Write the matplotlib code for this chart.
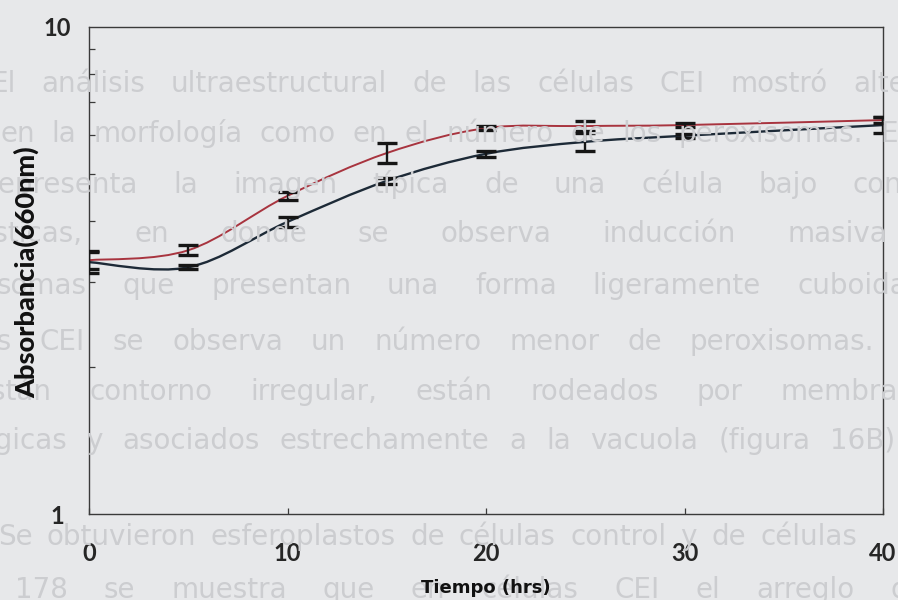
import numpy as np
import matplotlib.pyplot as plt
from matplotlib.path import Path
from matplotlib.patches import PathPatch
from matplotlib.ticker import LogLocator, NullFormatter, FixedLocator, FixedFormatter

# Tiempo de muestreo (hrs)
tiempo = [0, 5, 10, 15, 20, 25, 30, 40]

# Absorbancia a 660 nm, dos cultivos
abs_roja = [3.32, 3.48, 4.50, 5.51, 6.20, 6.26, 6.29, 6.44]
err_roja = [0.14, 0.08, 0.09, 0.26, 0.06, 0.15, 0.06, 0.09]
abs_oscura = [3.29, 3.21, 3.98, 4.83, 5.49, 5.81, 5.98, 6.29]
err_oscura = [0.16, 0.03, 0.09, 0.07, 0.08, 0.24, 0.06, 0.24]

xticks = [0, 10, 20, 30, 40]
yticks = [1, 10]

# texto del reverso de la hoja que se transparenta: (palabras, x inicial, x ultima palabra, linea base) en px
fondo = [
    ("El análisis ultraestructural de las células CEI mostró alteraciones", -10, 853, 92),
    ("en la morfología como en el número de los peroxisomas. En", 0, 880, 142),
    ("representa la imagen típica de una célula bajo condiciones", -12, 853, 193),
    ("plásticas, en donde se observa inducción masiva", -48, 787, 242),
    ("somas que presentan una forma ligeramente cuboidal", -3, 797, 294),
    ("las CEI se observa un número menor de peroxisomas.", -28, 690, 350),
    ("están contorno irregular, están rodeados por membranas", -25, 780, 400),
    ("lógicas y asociados estrechamente a la vacuola (figura 16B).", -30, 830, 449),
    ("Se obtuvieron esferoplastos de células control y de células", -2, 760, 545),
    ("178 se muestra que en células CEI el arreglo de", 15, 890, 598),
]

W, H = 898, 600
fig = plt.figure(figsize=(W / 100, H / 100), dpi=100)
fig.patch.set_facecolor('#e7e8ea')
renderer = fig.canvas.get_renderer()

# texto fantasma justificado palabra por palabra
for linea, x0, xlast, base in fondo:
    palabras = linea.split()
    objs = [fig.text(0, 1 - base / H, p, fontsize=20, color='#cccdd0',
                     family='DejaVu Sans', va='baseline', ha='left', zorder=0)
            for p in palabras]
    anchos = [t.get_window_extent(renderer).width for t in objs]
    n = len(objs)
    hueco = (xlast - x0 - sum(anchos[:-1])) / max(n - 1, 1)
    x = x0
    for t, w in zip(objs, anchos):
        t.set_x(x / W)
        x += w + hueco

ax = fig.add_axes([89 / W, 1 - 514 / H, (883 - 89) / W, (514 - 27) / H])
ax.set_facecolor('none')
ax.set_yscale('log')
ax.set_xlim(0, 40)
ax.set_ylim(1, 10)


def curva_suave(xs, ys):
    # spline Catmull-Rom sobre log10(y)
    pts = np.column_stack([np.asarray(xs, float), np.log10(ys)])
    n = len(pts)
    verts = [pts[0]]
    codes = [Path.MOVETO]
    for i in range(n - 1):
        p0 = pts[i - 1] if i > 0 else pts[i]
        p1, p2 = pts[i], pts[i + 1]
        p3 = pts[i + 2] if i + 2 < n else pts[i + 1]
        verts += [p1 + (p2 - p0) / 6, p2 - (p3 - p1) / 6, p2]
        codes += [Path.CURVE4] * 3
    verts = np.array(verts)
    verts[:, 1] = 10 ** verts[:, 1]
    return Path(verts, codes)


ax.add_patch(PathPatch(curva_suave(tiempo, abs_oscura), fill=False,
                       edgecolor='#1d2a37', lw=1.7, zorder=3))
ax.add_patch(PathPatch(curva_suave(tiempo, abs_roja), fill=False,
                       edgecolor='#a8343f', lw=1.4, zorder=3))

for y, e in [(abs_roja, err_roja), (abs_oscura, err_oscura)]:
    ax.errorbar(tiempo, y, yerr=e, fmt='none', ecolor='#161616',
                elinewidth=1.7, capsize=7, capthick=2.4, zorder=4)

for s in ax.spines.values():
    s.set_color('#3a3a3a')
    s.set_linewidth(1.0)

ax.xaxis.set_major_locator(FixedLocator(xticks))
ax.xaxis.set_major_formatter(FixedFormatter([str(v) for v in xticks]))
ax.yaxis.set_major_locator(FixedLocator(yticks))
ax.yaxis.set_major_formatter(FixedFormatter([str(v) for v in yticks]))
ax.yaxis.set_minor_locator(LogLocator(base=10, subs=np.arange(2, 10)))
ax.yaxis.set_minor_formatter(NullFormatter())

ax.tick_params(axis='x', which='major', direction='in', length=4, width=0.9,
               color='#3a3a3a', pad=20, labelsize=17, labelcolor='#262626')
ax.tick_params(axis='y', which='major', direction='in', length=0,
               pad=23, labelsize=17, labelcolor='#262626')
ax.tick_params(axis='y', which='minor', direction='in', length=4, width=0.9,
               color='#3a3a3a')
for lbl in ax.get_xticklabels() + ax.get_yticklabels():
    lbl.set_fontfamily('Lato')
    lbl.set_fontweight('bold')
for lbl in ax.get_yticklabels():
    lbl.set_horizontalalignment('center')

# rotulos de los ejes
fig.text(486 / W, 1 - 588 / H, 'Tiempo (hrs)', fontsize=13, family='DejaVu Sans',
         fontweight='bold', color='#111111', ha='center', va='center')
fig.text(27 / W, 1 - 272 / H, 'Absorbancia(660nm)', fontsize=19.5, family='Lato',
         fontweight='black', color='#111111', ha='center', va='center',
         rotation=90)

fig.savefig('out.png', dpi=100, facecolor=fig.get_facecolor())
